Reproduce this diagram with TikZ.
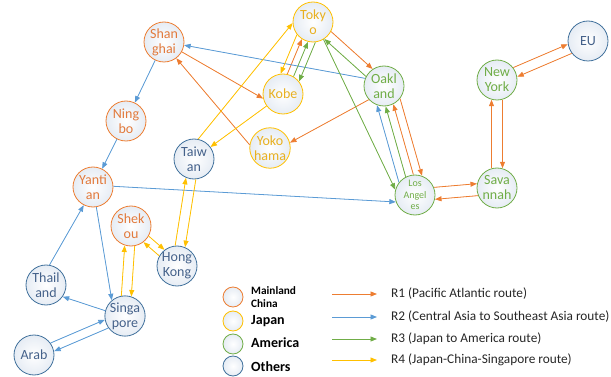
\documentclass[tikz,border=0pt]{standalone}
\usepackage{fontspec}
\setmainfont{Carlito}
\usetikzlibrary{arrows.meta,calc}
\definecolor{corange}{HTML}{ED7D31}
\definecolor{corangetext}{HTML}{E27A3C}
\definecolor{cblue}{HTML}{5B9BD5}
\definecolor{cgreen}{HTML}{70AD47}
\definecolor{cyellow}{HTML}{FFC000}
\definecolor{cyellowtext}{HTML}{E8B020}
\definecolor{cdblue}{HTML}{41719C}
\definecolor{cdbluetext}{HTML}{44618A}
\definecolor{cfill}{HTML}{E6ECF4}
\tikzset{
  port/.style={circle, minimum size=40pt, inner sep=0pt, line width=0.8pt,
    shade, shading=radial, inner color=white, outer color=cfill,
    font=\fontsize{14}{15}\selectfont, align=center},
  cn/.style={port, draw=corange, text=corangetext},
  jp/.style={port, draw=cyellow, text=cyellowtext},
  am/.style={port, draw=cgreen, text=cgreen},
  ot/.style={port, draw=cdblue, text=cdbluetext},
  lg/.style={circle, minimum size=20pt, inner sep=0pt, line width=0.8pt,
    shade, shading=radial, inner color=white, outer color=cfill},
  lgtext/.style={anchor=west, inner sep=0pt, text=black,
    font=\bfseries\fontsize{14}{16}\selectfont},
  rt/.style={anchor=west, inner sep=0pt, text=black!85,
    font=\fontsize{13.3}{15}\selectfont},
  route/.style={line width=0.8pt, -{Triangle[length=6.5pt,width=5pt]}},
  r1/.style={route, draw=corange, fill=corange},
  r2/.style={route, draw=cblue, fill=cblue},
  r3/.style={route, draw=cgreen, fill=cgreen},
  r4/.style={route, draw=cyellow, fill=cyellow},
}
\newcommand\lnk[4][0]{%
  \pgfmathsetmacro\lnksh{sqrt(420-(#1)*(#1))}%
  \draw[#2, shorten <=\lnksh pt, shorten >=\lnksh pt]
    ($(#3)!#1pt!90:(#4)$) -- ($(#4)!#1pt!-90:(#3)$);}
\begin{document}
\begin{tikzpicture}[x=1pt,y=-1pt]
\useasboundingbox (0,0) rectangle (611,377);
% ports
\node[cn] (sha) at (164,42) {Shan\\ghai};
\node[jp] (tok) at (313,22) {Toky\\o};
\node[jp] (kob) at (283,94) {Kobe};
\node[jp] (yok) at (270,148) {Yoko\\hama};
\node[am] (oak) at (384,86) {Oakl\\and};
\node[cn] (nin) at (126,121) {Ning\\bo};
\node[ot] (tw) at (194,159) {Taiw\\an};
\node[cn] (yan) at (93,187) {Yanti\\an};
\node[cn] (shk) at (131,226) {Shek\\ou};
\node[ot] (hk) at (177,266) {Hong\\Kong};
\node[ot] (thai) at (46,285) {Thail\\and};
\node[ot] (sing) at (125,316) {Singa\\pore};
\node[ot] (arab) at (34,355) {Arab};
\node[am, font=\fontsize{10}{11.5}\selectfont] (la) at (415,195) {Los\\Angel\\es};
\node[am] (sav) at (497,188) {Sava\\nnah};
\node[am] (ny) at (497,80) {New\\York};
\node[ot] (eu) at (588,41) {EU};
% R1 orange
\draw[r1] (sha.-29) -- (kob.193);
\draw[r1] (yok.171) -- (sha.-53);
\draw[r1] (oak.222) -- (yok.15);
\lnk[3.7]{r1}{kob}{tok}
\lnk[5]{r1}{tok}{oak}
\lnk[-4]{r1}{la}{oak}
\lnk[12]{r1}{oak}{la}
\lnk[6]{r1}{la}{sav}
\lnk[6]{r1}{sav}{la}
\lnk[5.5]{r1}{sav}{ny}
\lnk[5.5]{r1}{ny}{sav}
\lnk[5]{r1}{ny}{eu}
\lnk[5]{r1}{eu}{ny}
% R2 blue
\draw[r2] (oak.158) -- (sha.-9);
\draw[r2] (sha) -- (nin);
\draw[r2] (nin) -- (yan);
\draw[r2] (yan.2) -- (la.200);
\draw[r2] (yan) -- (sing.130);
\draw[r2] (sing.165) -- (thai.-35);
\draw[r2] (thai.80) -- (yan.243);
\lnk[12]{r2}{la}{oak}
\lnk[4.5]{r2}{arab}{sing}
\lnk[4.5]{r2}{sing}{arab}
% R3 green
\lnk[5]{r3}{oak}{tok}
\lnk[-3]{r3}{kob}{tok}
\lnk[10]{r3}{tok}{kob}
\draw[r3] (tok.-59) -- (la.165);
\lnk[4]{r3}{la}{oak}
% R4 yellow
\lnk[-10]{r4}{tok}{kob}
\draw[r4] (tw.78) -- (tok.183);
\draw[r4] (kob) -- (tw);
\lnk[5]{r4}{hk}{tw}
\lnk[5]{r4}{tw}{hk}
\lnk[4]{r4}{shk}{hk}
\lnk[4]{r4}{hk}{shk}
\lnk[5]{r4}{sing}{shk}
\lnk[5]{r4}{shk}{sing}
% legend
\node[lg, draw=corange] (k1) at (233,297) {};
\node[lg, draw=cyellow] (k2) at (233,321) {};
\node[lg, draw=cgreen] (k3) at (233,344) {};
\node[lg, draw=cdblue] (k4) at (233,366) {};
\node[lgtext, font=\bfseries\fontsize{11.3}{12.5}\selectfont, align=left] (t1) at (251,297) {Mainland\\China};
\node[lgtext] (t2) at (251,321) {Japan};
\node[lgtext] (t3) at (251,343) {America};
\node[lgtext] (t4) at (251,367) {Others};
\coordinate (a1s) at (332,294); \coordinate (a1e) at (377,294);
\coordinate (a2s) at (332,317); \coordinate (a2e) at (377,317);
\coordinate (a3s) at (332,339); \coordinate (a3e) at (377,339);
\coordinate (a4s) at (332,360); \coordinate (a4e) at (377,360);
\draw[r1] (a1s) -- (a1e);
\draw[r2] (a2s) -- (a2e);
\draw[r3] (a3s) -- (a3e);
\draw[r4] (a4s) -- (a4e);
\node[rt] (l1) at (391,294) {R1 (Pacific Atlantic route)};
\node[rt] (l2) at (391,317) {R2 (Central Asia to Southeast Asia route)};
\node[rt] (l3) at (391,339) {R3 (Japan to America route)};
\node[rt] (l4) at (391,360) {R4 (Japan-China-Singapore route)};
\end{tikzpicture}
\end{document}
